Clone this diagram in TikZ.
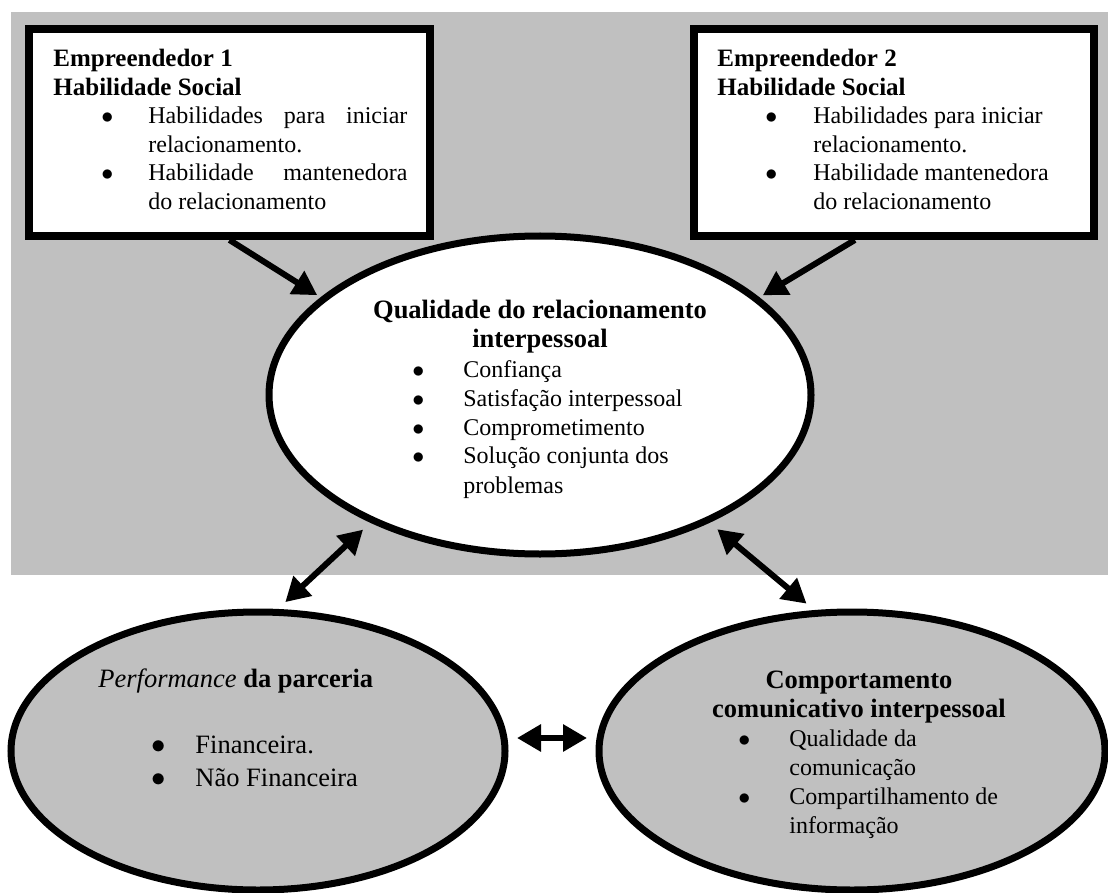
\documentclass[tikz,border=0pt]{standalone}
\usepackage{fontspec}
\setmainfont{Liberation Serif}
\usetikzlibrary{arrows.meta,shapes.geometric}
\definecolor{cinza}{RGB}{192,192,192}
\newcommand{\marcador}[2]{\hspace*{#1}\makebox[#2][l]{$\bullet$}}
\newcommand{\titulo}[1]{{\fontsize{12.5}{14.25}\selectfont\bfseries #1}}
\newcommand{\titulog}[1]{{\fontsize{13.25}{14.5}\selectfont\bfseries #1}}

\begin{document}
\begin{tikzpicture}[x=0.5pt,y=-0.5pt,
    caixa/.style={draw,rectangle,line width=4pt,fill=white,inner sep=0pt,minimum width=#1,minimum height=103.5pt},
    elipse/.style 2 args={draw,ellipse,line width=3.5pt,inner sep=0pt,minimum width=#1,minimum height=#2},
    seta/.style={line width=3pt,-{Triangle[length=12pt,width=13pt]},shorten >=2pt},
    setadupla/.style={line width=3pt,{Triangle[length=12pt,width=13pt]}-{Triangle[length=12pt,width=13pt]},shorten >=5pt,shorten <=5pt},
    texto/.style={inner sep=0pt,anchor=base west,font=\fontsize{12}{14.5}\selectfont}]
    %fundo cinza e tamanho da figura
    \useasboundingbox (0,0) rectangle (1108,893);
    \fill[cinza] (11,12) rectangle (1108,575);

    %caixas e elipses
    \node[caixa=200.5pt] (emp1) at (229.5,132.5) {};
    \node[caixa=200pt] (emp2) at (894,132.5) {};
    \node[elipse={271pt}{159pt},fill=white] (qualidade) at (540,395) {};
    \node[elipse={247pt}{139pt},fill=cinza] (performance) at (258,751) {};
    \node[elipse={253pt}{139pt},fill=cinza] (comportamento) at (852,751) {};

    %setas
    \draw[seta] (emp1.south) -- (qualidade.156);
    \draw[seta] (emp2.250) -- (qualidade.24);
    \draw[setadupla] (performance.82) -- (qualidade.217);
    \draw[setadupla] (comportamento.105) -- (qualidade.-37);
    \draw[setadupla,shorten >=4.25pt,shorten <=4.25pt] ([yshift=6.5pt]performance.east) -- ([yshift=6.5pt]comportamento.west);

    %textos
    \node[texto,font=\fontsize{12}{14.25}\selectfont] (txt_emp1) at (53,67) {\parbox[t]{177pt}{%
        \titulo{Empreendedor 1}\\
        \titulo{Habilidade Social}\\
        \marcador{24pt}{23.5pt}Habilidades\hfill para\hfill iniciar\\
        \hspace*{47.5pt}relacionamento.\\
        \marcador{24pt}{23.5pt}Habilidade\hfill mantenedora\\
        \hspace*{47.5pt}do relacionamento}};
    \node[texto,font=\fontsize{12}{14.25}\selectfont] (txt_emp2) at (717,67) {\parbox[t]{181.5pt}{%
        \titulo{Empreendedor 2}\\
        \titulo{Habilidade Social}\\
        \marcador{24pt}{24pt}Habilidades para iniciar\\
        \hspace*{48pt}relacionamento.\\
        \marcador{24pt}{24pt}Habilidade mantenedora\\
        \hspace*{48pt}do relacionamento}};
    \node[texto,anchor=base] (txt_qual) at (540,318) {\parbox[t]{200pt}{\centering
        \titulog{Qualidade do relacionamento}\\
        \titulog{interpessoal}}};
    \node[texto] (lista_qual) at (412,377) {\parbox[t]{150pt}{%
        \marcador{0pt}{25.5pt}Confiança\\
        \marcador{0pt}{25.5pt}Satisfação interpessoal\\
        \marcador{0pt}{25.5pt}Comprometimento\\
        \marcador{0pt}{25.5pt}Solução conjunta dos\\
        \hspace*{25.5pt}problemas}};
    \node[texto,font=\fontsize{13.25}{16.5}\selectfont] (txt_perf) at (98,687) {\parbox[t]{160pt}{%
        \textit{Performance} \textbf{da parceria}\\[16.5pt]
        \marcador{26.3pt}{22.2pt}Financeira.\\
        \marcador{26.3pt}{22.2pt}Não Financeira}};
    \node[texto,anchor=base] (txt_comp) at (859,688) {\parbox[t]{200pt}{\centering
        \titulog{Comportamento}\\
        \titulog{comunicativo interpessoal}}};
    \node[texto] (lista_comp) at (738,746) {\parbox[t]{150pt}{%
        \marcador{0pt}{25.5pt}Qualidade da\\
        \hspace*{25.5pt}comunicação\\
        \marcador{0pt}{25.5pt}Compartilhamento de\\
        \hspace*{25.5pt}informação}};
\end{tikzpicture}
\end{document}
